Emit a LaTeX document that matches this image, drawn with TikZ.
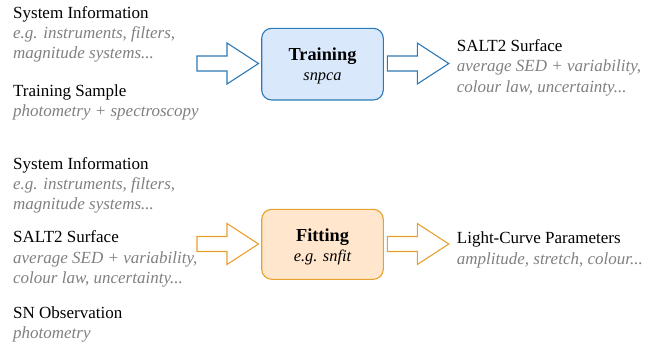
\documentclass[tikz,border=0pt]{standalone}
\usepackage{fontspec}
\setmainfont{LiberationSerif}[Extension=.ttf, UprightFont=*-Regular, ItalicFont=*-Italic, BoldFont=*-Bold, BoldItalicFont=*-BoldItalic]
\definecolor{gtext}{HTML}{808080}
\definecolor{bstroke}{HTML}{2A7AB8}
\definecolor{bfill}{HTML}{DAE8FC}
\definecolor{ostroke}{HTML}{E6A12E}
\definecolor{ofill}{HTML}{FFE6CC}
\tikzset{
  head/.style={anchor=base west, inner sep=0pt, font=\fontsize{17bp}{20bp}\selectfont, text=black},
  sub/.style={anchor=base west, inner sep=0pt, font=\fontsize{17bp}{20bp}\selectfont\itshape, text=gtext},
  boxtitle/.style={anchor=base, inner sep=0pt, font=\fontsize{18.3bp}{21bp}\selectfont\bfseries},
  boxsub/.style={anchor=base, inner sep=0pt, font=\fontsize{16.4bp}{20bp}\selectfont\itshape},
  procbox/.style={draw, line width=1.1bp, rounded corners=10bp, minimum width=121.6bp, inner sep=0pt},
  blockarrow/.pic={\draw[line width=1.1bp, pic actions] (0,-7.5) -- (30,-7.5) -- (30,-20.5) -- (61.5,0) -- (30,20.5) -- (30,7.5) -- (0,7.5) -- cycle;},
}
\begin{document}
\begin{tikzpicture}[x=1bp,y=-1bp]
\useasboundingbox (0,0) rectangle (660,347);
% top row
\node[head] (si1) at (13,18.3) {System Information};
\node[sub] (si1a) at (13,38.3) {e.g. instruments, filters,};
\node[sub] (si1b) at (13,58.3) {magnitude systems...};
\node[head] (ts) at (13,96.7) {Training Sample};
\node[sub] (tsa) at (13,116.5) {photometry + spectroscopy};

\node[procbox, draw=bstroke, fill=bfill, minimum height=71.7bp] (train) at (322.5,64.15) {};
\node[boxtitle] (traint) at (322.5,60.7) {Training};
\node[boxsub] (trains) at (322.5,80.7) {snpca};

\pic[draw=bstroke] (a1) at (197,63.5) {blockarrow};
\pic[draw=bstroke] (a2) at (387.3,63.5) {blockarrow};

\node[head] (s2) at (456.7,51) {SALT2 Surface};
\node[sub] (s2a) at (456.7,71.5) {average SED + variability,};
\node[sub] (s2b) at (456.7,92) {colour law, uncertainty...};

% bottom row
\node[head] (si2) at (13,169) {System Information};
\node[sub] (si2a) at (13,189) {e.g. instruments, filters,};
\node[sub] (si2b) at (13,209) {magnitude systems...};
\node[head] (s3) at (13,242.7) {SALT2 Surface};
\node[sub] (s3a) at (13,263) {average SED + variability,};
\node[sub] (s3b) at (13,283) {colour law, uncertainty...};
\node[head] (sn) at (13,318.3) {SN Observation};
\node[sub] (sna) at (13,338.3) {photometry};

\node[procbox, draw=ostroke, fill=ofill, minimum height=70bp] (fit) at (322.5,244.3) {};
\node[boxtitle] (fitt) at (322.5,241.7) {Fitting};
\node[boxsub] (fits) at (322.5,261.7) {e.g. snfit};

\pic[draw=ostroke] (a3) at (197,244) {blockarrow};
\pic[draw=ostroke] (a4) at (387.3,244) {blockarrow};

\node[head] (lc) at (456.7,243.3) {Light-Curve Parameters};
\node[sub] (lca) at (456.7,264.3) {amplitude, stretch, colour...};
\end{tikzpicture}
\end{document}
